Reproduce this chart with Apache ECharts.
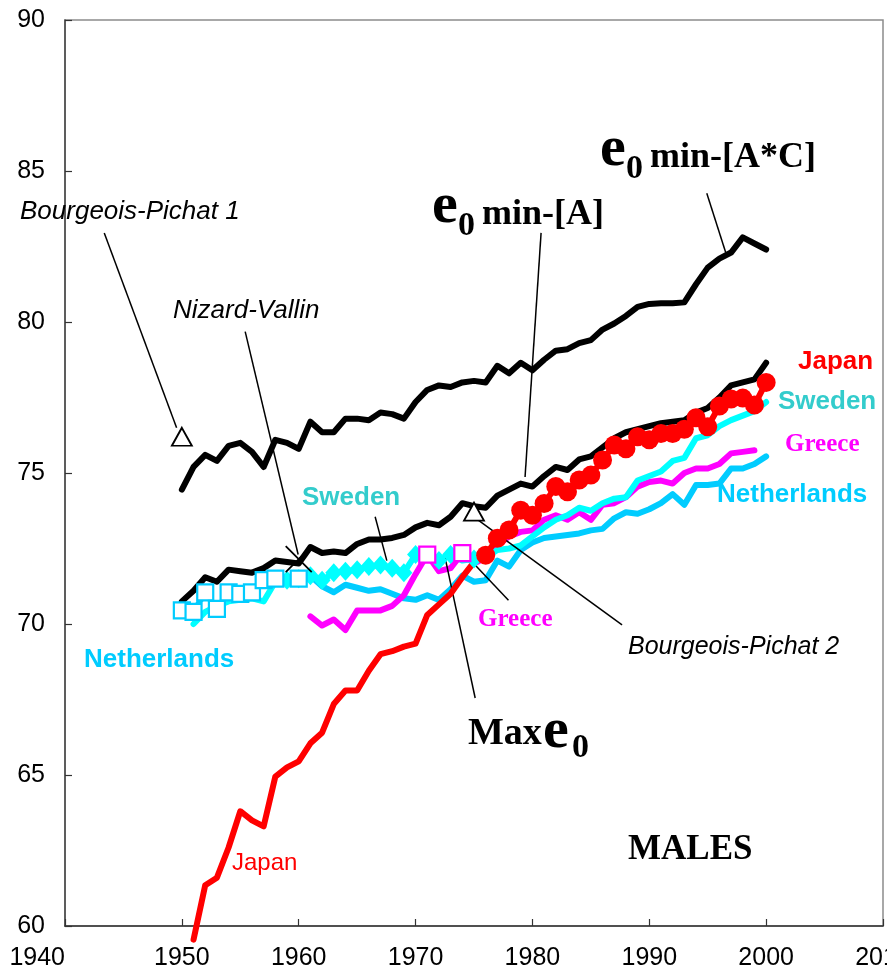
<!DOCTYPE html>
<html><head><meta charset="utf-8">
<script src="https://cdn.jsdelivr.net/npm/echarts@6/dist/echarts.min.js"></script>
<style>html,body{margin:0;padding:0;background:#fff}#c{width:887px;height:972px}</style>
</head><body><div id="c"></div><script>
// ---------- DATA ----------
const xTicks = [1940, 1950, 1960, 1970, 1980, 1990, 2000, 2010];
const yTicks = [60, 65, 70, 75, 80, 85, 90];

const minAStart = 1950;
const minAValues = [70.75, 71.1, 71.55, 71.4, 71.8, 71.75, 71.7, 71.85, 72.1, 72.05,
  72.0, 72.55, 72.35, 72.4, 72.35, 72.65, 72.8, 72.8, 72.85, 72.95,
  73.2, 73.35, 73.27, 73.55, 74.0, 73.9, 73.85, 74.25, 74.45, 74.65,
  74.55, 74.9, 75.2, 75.1, 75.45, 75.55, 75.85, 76.15, 76.35, 76.45,
  76.55, 76.65, 76.7, 76.75, 77.0, 77.15, 77.5, 77.9, 78.0, 78.1,
  78.65];

const minACStart = 1950;
const minACValues = [74.45, 75.2, 75.6, 75.4, 75.9, 76.0, 75.7, 75.2, 76.1, 76.0,
  75.8, 76.7, 76.35, 76.35, 76.8, 76.8, 76.75, 77.0, 76.95, 76.8,
  77.35, 77.75, 77.9, 77.85, 78.0, 78.05, 78.0, 78.55, 78.3, 78.65,
  78.4, 78.75, 79.05, 79.1, 79.3, 79.4, 79.75, 79.95, 80.2, 80.5,
  80.6, 80.62, 80.62, 80.65, 81.25, 81.8, 82.1, 82.3, 82.8, 82.6,
  82.4];

const netherlandsStart = 1950;
const netherlandsValues = [70.45, 70.4, 71.05, 70.5, 71.05, 71.0, 71.05, 71.45, 71.5, 71.45,
  71.5, 71.6, 71.25, 71.05, 71.3, 71.2, 71.1, 71.15, 71.0, 70.85,
  70.8, 70.95, 70.8, 71.15, 71.6, 71.4, 71.45, 72.1, 71.9, 72.45,
  72.7, 72.85, 72.9, 72.95, 73.0, 73.1, 73.15, 73.5, 73.7, 73.65,
  73.8, 74.0, 74.3, 73.95, 74.6, 74.6, 74.65, 75.15, 75.15, 75.3,
  75.55];

const swedenStart = 1951;
const swedenValues = [70.0, 70.4, 70.6, 70.75, 70.8, 70.85, 70.75, 71.4,
  71.45, 71.5, 71.6, 71.45, 71.7, 71.75, 71.8, 71.9, 71.95, 71.85, 71.7, 72.3,
  72.2, 72.1, 72.3, 72.1, 72.15, 72.2, 72.45, 72.5, 72.6, 72.9,
  73.2, 73.45, 73.6, 73.85, 73.75, 74.0, 74.15, 74.2, 74.75, 74.9,
  75.05, 75.4, 75.5, 76.15, 76.25, 76.55, 76.75, 76.9, 77.05, 77.35];

const greeceStart = 1961;
const greeceValues = [70.25, 69.95, 70.15, 69.8, 70.45, 70.45, 70.45, 70.6, 70.95, 71.65,
  72.3, 71.75, 71.85, 72.35, 72.0, 72.2, 72.6, 72.9, 73.05, 73.1,
  73.45, 73.6, 73.45, 73.7, 73.45, 73.95, 74.0, 74.2, 74.55, 74.7,
  74.75, 74.65, 75.0, 75.15, 75.15, 75.3, 75.65, 75.7, 75.75];

const japanStart = 1951;
const japanValues = [59.55, 61.35, 61.6, 62.6, 63.8, 63.5, 63.3, 64.95, 65.25, 65.45,
  66.05, 66.4, 67.35, 67.8, 67.8, 68.45, 69.0, 69.1, 69.25, 69.35,
  70.3, 70.65, 71.0, 71.55, 72.05, 72.28, 72.84, 73.11, 73.77, 73.6,
  73.99, 74.55, 74.38, 74.77, 74.93, 75.43, 75.93, 75.8, 76.2, 76.1,
  76.31, 76.31, 76.45, 76.83, 76.53, 77.22, 77.45, 77.48, 77.25, 78.0];

// years in which each country holds the record (Max e0 markers)
const maxNetherlandsYears = [1950, 1951, 1952, 1953, 1954, 1955, 1956, 1957, 1958, 1960];
const maxSwedenYears = [1959, 1960, 1961, 1962, 1963, 1964, 1965, 1966, 1967, 1968, 1969, 1970, 1972, 1973, 1975];
const maxGreeceYears = [1971, 1974];
const maxJapanYears = [1976, 1977, 1978, 1979, 1980, 1981, 1982, 1983, 1984, 1985, 1986, 1987, 1988,
  1989, 1990, 1991, 1992, 1993, 1994, 1995, 1996, 1997, 1998, 1999, 2000];

const bourgeoisPichatYears = [1950, 1975];
const bourgeoisPichatValues = [76.2, 73.72];
const nizardVallinYears = [1960];
const nizardVallinValues = [72.15];

// ---------- helpers ----------
function pairs(start, values) { return values.map((v, i) => [start + i, v]); }
function lookup(years, start, values) { return years.map(y => [y, values[y - start]]); }
function zip(xs, ys) { return xs.map((x, i) => [x, ys[i]]); }

const SANS = "Arial, 'Liberation Sans', sans-serif";
const SERIF = "'Times New Roman', 'Liberation Serif', serif";

function T(left, baseline, text, size, fam, fill, weight, style) {
  return {
    type: 'text', x: left, y: baseline - 0.34 * size, silent: true, z: 100,
    style: {
      text: text, fill: fill || '#000',
      font: (style || 'normal') + ' ' + (weight || 'normal') + ' ' + size + 'px ' + fam,
      align: 'left', verticalAlign: 'middle'
    }
  };
}

const leaders = [
  [[1943.36, 82.95], [1949.55, 76.5]],
  [[1955.42, 79.68], [1959.95, 72.3]],
  [[1966.54, 73.55], [1967.54, 72.1]],
  [[1980.74, 82.95], [1979.37, 74.87]],
  [[1994.92, 84.26], [1996.54, 82.3]],
  [[1972.53, 72.19], [1975.1, 67.55]],
  [[1974.0, 72.4], [1977.95, 70.79]],
  [[1975.36, 73.44], [1987.67, 69.97]]
];

const lineBase = { type: 'line', showSymbol: false, symbol: 'none', smooth: false, silent: true,
  emphasis: { disabled: true } };
const LW = 6;

const chart = echarts.init(document.getElementById('c'), null, { renderer: 'canvas' });
chart.setOption({
  animation: false,
  backgroundColor: '#fff',
  grid: { left: 65, right: 4, top: 20, bottom: 46, show: true, borderColor: '#8c8c8c', borderWidth: 1.5,
    containLabel: false, outerBoundsMode: 'none' },
  xAxis: {
    type: 'value', min: xTicks[0], max: xTicks[xTicks.length - 1], interval: 10,
    axisLine: { show: true, lineStyle: { color: '#333', width: 1.5 } },
    axisTick: { show: true, inside: true, length: 7, lineStyle: { color: '#333', width: 1.2 } },
    axisLabel: { fontSize: 25, fontFamily: SANS, color: '#000', margin: 20, showMinLabel: true, showMaxLabel: true,
      alignMinLabel: 'right', formatter: v => String(v) },
    splitLine: { show: false }
  },
  yAxis: {
    type: 'value', min: yTicks[0], max: yTicks[yTicks.length - 1], interval: 5,
    axisLine: { show: true, lineStyle: { color: '#444', width: 1.5 } },
    axisTick: { show: true, inside: true, length: 7, lineStyle: { color: '#333', width: 1.2 } },
    axisLabel: { fontSize: 25, fontFamily: SANS, color: '#000', margin: 20, showMinLabel: true, showMaxLabel: true },
    splitLine: { show: false }
  },
  series: [
    Object.assign({}, lineBase, { name: 'Netherlands', z: 2, data: pairs(netherlandsStart, netherlandsValues),
      lineStyle: { color: '#00CCFF', width: LW, join: 'round', cap: 'round' } }),
    Object.assign({}, lineBase, { name: 'Greece', z: 3, data: pairs(greeceStart, greeceValues),
      lineStyle: { color: '#FF00FF', width: LW, join: 'round', cap: 'round' } }),
    Object.assign({}, lineBase, { name: 'Sweden', z: 4, data: pairs(swedenStart, swedenValues),
      lineStyle: { color: '#00FFFF', width: LW, join: 'round', cap: 'round' } }),
    Object.assign({}, lineBase, { name: 'e0 min-[A]', z: 5, data: pairs(minAStart, minAValues),
      lineStyle: { color: '#000', width: LW, join: 'round', cap: 'round' } }),
    Object.assign({}, lineBase, { name: 'e0 min-[A*C]', z: 5, data: pairs(minACStart, minACValues),
      lineStyle: { color: '#000', width: LW, join: 'round', cap: 'round' },
      markLine: { silent: true, symbol: ['none', 'none'], label: { show: false }, emphasis: { disabled: true },
        lineStyle: { color: '#000', width: 1.5, type: 'solid', opacity: 1 },
        data: leaders.map(l => [{ coord: l[0] }, { coord: l[1] }]) } }),
    Object.assign({}, lineBase, { name: 'Japan', z: 6, clip: false, data: pairs(japanStart, japanValues),
      lineStyle: { color: '#FF0000', width: LW, join: 'round', cap: 'round' } }),
    { type: 'scatter', name: 'Max Sweden', z: 7, silent: true, symbol: 'diamond', symbolSize: [17, 19],
      data: lookup(maxSwedenYears, swedenStart, swedenValues), itemStyle: { color: '#00FFFF', opacity: 1 } },
    { type: 'scatter', name: 'Max Netherlands', z: 8, silent: true, symbol: 'rect', symbolSize: 16,
      data: lookup(maxNetherlandsYears, netherlandsStart, netherlandsValues),
      itemStyle: { color: '#fff', borderColor: '#00CCFF', borderWidth: 2.2, opacity: 1 } },
    { type: 'scatter', name: 'Max Greece', z: 8, silent: true, symbol: 'rect', symbolSize: 16,
      data: lookup(maxGreeceYears, greeceStart, greeceValues),
      itemStyle: { color: '#fff', borderColor: '#FF00FF', borderWidth: 2.2, opacity: 1 } },
    { type: 'scatter', name: 'Max Japan', z: 8, silent: true, symbol: 'circle', symbolSize: 19,
      data: lookup(maxJapanYears, japanStart, japanValues), itemStyle: { color: '#FF0000', opacity: 1 } },
    { type: 'scatter', name: 'Bourgeois-Pichat', z: 9, silent: true, symbol: 'triangle', symbolSize: [20, 18],
      data: zip(bourgeoisPichatYears, bourgeoisPichatValues),
      itemStyle: { color: '#fff', borderColor: '#000', borderWidth: 1.8, opacity: 1 } },
    { type: 'scatter', name: 'Nizard-Vallin', z: 9, silent: true, symbol: 'path://M0,0L10,10M10,0L0,10', symbolSize: 26,
      data: zip(nizardVallinYears, nizardVallinValues),
      itemStyle: { color: 'none', borderColor: '#000', borderWidth: 1.8, opacity: 1 } }
  ],
  graphic: [
    T(20, 221, 'Bourgeois-Pichat 1', 26, SANS, '#000', 'normal', 'italic'),
    T(173, 320, 'Nizard-Vallin', 26, SANS, '#000', 'normal', 'italic'),
    T(302, 507, 'Sweden', 26, SANS, '#33CCCC', 'bold'),
    T(84, 669, 'Netherlands', 26, SANS, '#00CCFF', 'bold'),
    T(798, 371, 'Japan', 26, SANS, '#FF0000', 'bold'),
    T(778, 411, 'Sweden', 26, SANS, '#33CCCC', 'bold'),
    T(785, 453, 'Greece', 25, SERIF, '#FF00FF', 'bold'),
    T(717, 504, 'Netherlands', 26, SANS, '#00CCFF', 'bold'),
    T(478, 628, 'Greece', 25, SERIF, '#FF00FF', 'bold'),
    T(628, 656, 'Bourgeois-Pichat 2', 25, SANS, '#000', 'normal', 'italic'),
    T(232, 872, 'Japan', 24, SANS, '#FF0000', 'normal'),
    T(628, 862, 'MALES', 35, SERIF, '#000', 'bold'),
    T(600, 170, 'e', 58, SERIF, '#000', 'bold'),
    T(626, 181, '0', 34, SERIF, '#000', 'bold'),
    T(650, 170, 'min-[A*C]', 36, SERIF, '#000', 'bold'),
    T(432, 227, 'e', 58, SERIF, '#000', 'bold'),
    T(458, 238, '0', 34, SERIF, '#000', 'bold'),
    T(482, 227, 'min-[A]', 36, SERIF, '#000', 'bold'),
    T(468, 747, 'Max', 38, SERIF, '#000', 'bold'),
    T(543, 752, 'e', 58, SERIF, '#000', 'bold'),
    T(572, 760, '0', 34, SERIF, '#000', 'bold')
  ]
});
</script></body></html>
